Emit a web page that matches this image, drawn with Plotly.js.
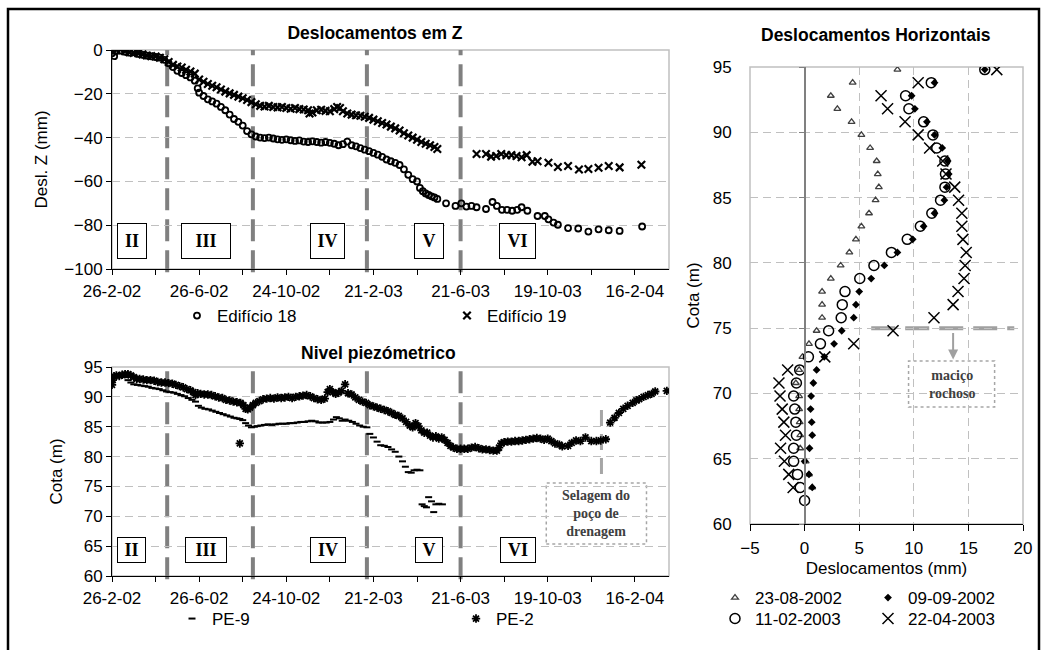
<!DOCTYPE html>
<html><head><meta charset="utf-8">
<script src="https://cdn.plot.ly/plotly-3.0.1.min.js"></script>
<style>body{margin:0;background:#fff}#chart{width:1046px;height:650px}</style>
</head><body><div id="chart"></div>
<script>
// ---------- DATA ----------
// time axis: days since 26-2-2002
const dateTickDays   = [0, 120, 240, 360, 480, 600, 720];
const dateTickLabels = ['26-2-02','26-6-02','24-10-02','21-2-03','21-6-03','19-10-03','16-2-04'];
const phaseBoundaryDays = [76, 194, 351, 480];
const phaseLabels    = ['II','III','IV','V','VI'];
const phaseLabelDays = [27, 129, 297, 437, 559];
const sealingDay = 674;

// Deslocamentos em Z (mm)
const ed18Days = [0,3,6,12,18,24,30,36,42,48,54,60,66,72,78,84,90,96,102,108,114,118,120,126,132,138,144,150,156,162,168,174,180,186,192,198,204,210,216,222,228,234,240,246,252,258,264,270,276,282,288,294,300,306,312,318,324,330,336,342,348,354,360,366,372,378,384,390,396,402,408,414,420,424,428,432,436,440,444,448,
  460,473,481,488,495,502,515,524,530,537,544,551,558,564,572,586,596,601,608,614,628,642,656,670,684,699,730];
const ed18Z = [-1.5,-2.8,-0.5,-0.3,-0.8,-1.2,-1.0,-1.8,-2.2,-2.6,-2.9,-3.2,-3.5,-4.5,-6.0,-7.8,-9.5,-10.5,-11.5,-12.5,-14.0,-17.5,-19.5,-21.0,-22.5,-23.5,-24.5,-26.0,-27.5,-29.5,-31.5,-32.8,-34.5,-37.0,-38.5,-39.5,-40.0,-40.2,-40.0,-40.4,-40.8,-41.0,-40.8,-41.2,-41.5,-41.3,-41.8,-42.0,-41.7,-42.0,-42.3,-42.0,-42.4,-42.8,-43.5,-43.0,-41.8,-43.5,-44.0,-44.8,-45.5,-46.2,-47.0,-47.8,-48.8,-50.0,-50.8,-51.5,-52.5,-54.5,-57.0,-59.0,-60.0,-63.0,-64.5,-65.5,-66.2,-66.8,-67.3,-68.0,
  -70.0,-71.2,-70.0,-71.5,-71.2,-71.8,-72.6,-69.4,-71.2,-73.0,-73.0,-73.4,-73.0,-71.8,-73.4,-75.8,-75.8,-77.3,-78.8,-79.8,-81.3,-81.5,-82.9,-81.9,-82.3,-82.6,-80.6];
const ed19Days = [0,6,12,18,24,30,36,42,48,54,60,66,72,78,84,90,96,102,108,114,120,126,132,138,144,150,156,162,168,174,180,186,192,198,204,210,216,222,228,234,240,246,252,258,264,270,272,276,282,288,294,300,306,310,314,318,324,330,336,342,348,354,360,366,372,378,384,390,396,402,408,414,420,426,432,438,444,448,
  502,515,522,529,536,543,550,557,564,571,579,586,601,614,628,643,656,670,684,699,729];
const ed19Z = [-0.5,0.0,0.2,-0.5,-1.0,-1.3,-1.5,-2.0,-2.5,-2.8,-3.0,-3.5,-4.2,-5.5,-6.8,-7.5,-8.0,-9.0,-9.8,-10.8,-13.5,-14.5,-15.5,-16.3,-17.0,-18.0,-19.0,-19.8,-20.5,-21.3,-22.0,-22.8,-23.8,-24.8,-25.5,-25.8,-25.5,-26.0,-26.2,-26.0,-26.5,-26.8,-26.5,-27.0,-27.2,-27.5,-29.0,-28.5,-27.5,-27.3,-27.8,-28.0,-27.0,-26.0,-26.5,-28.0,-29.0,-29.5,-29.8,-30.0,-30.5,-31.0,-31.8,-32.5,-33.3,-34.0,-35.0,-35.8,-36.8,-38.0,-39.0,-40.0,-41.0,-42.0,-42.8,-43.5,-44.3,-45.2,
  -47.5,-47.5,-48.7,-48.4,-47.5,-48.0,-48.0,-48.4,-49.0,-48.0,-51.0,-50.8,-51.5,-53.4,-53.0,-54.6,-54.3,-53.8,-53.0,-53.6,-52.4];

// Nivel piezométrico (m)
const pe9Days = [0,3,7,12,17,22,26,30,35,40,45,50,55,60,65,70,75,80,85,90,95,100,105,110,115,119,123,128,133,138,143,148,153,158,163,168,172,176,180,184,188,192,196,200,205,210,215,220,225,230,235,240,245,250,255,260,265,270,275,280,285,290,295,300,305,309,313,317,321,326,331,336,341,346,351,355,360,365,370,375,380,385,390,395,400,404,408,412,416,420,424,427,430,433,436,440,443,446,450,455];
const pe9Cota = [92.5,93.3,93.5,93.4,93.3,92.8,92.4,92.1,92.0,91.9,91.8,91.7,91.5,91.4,91.3,91.1,90.9,90.8,90.7,90.5,90.3,90.1,89.8,89.5,89.2,88.5,88.2,88.0,87.9,87.7,87.5,87.3,87.1,86.9,86.7,86.5,86.4,86.3,86.1,85.6,85.2,84.9,85.0,85.1,85.2,85.3,85.4,85.3,85.4,85.5,85.5,85.5,85.6,85.6,85.7,85.8,85.8,85.9,86.0,85.9,85.7,85.7,85.7,85.8,86.2,86.6,86.4,86.0,86.2,86.0,85.8,85.5,85.2,85.0,84.9,83.8,83.2,82.5,81.9,81.8,81.6,81.2,80.8,80.0,79.2,78.3,77.4,77.3,77.7,77.8,77.7,72.0,71.7,71.5,73.2,72.5,70.7,72.0,72.1,72.0];
const pe2Days = [0,1,3,6,10,14,18,22,26,30,34,38,43,48,53,58,63,68,73,78,83,88,93,98,103,108,112,115,118,122,127,132,137,142,147,152,157,162,167,172,176,177,181,184,187,190,194,198,203,208,213,218,223,228,233,238,243,248,253,258,263,268,273,278,283,288,293,297,300,304,308,312,316,321,325,330,335,340,345,350,355,360,365,370,375,380,385,390,395,400,405,410,414,418,422,426,430,434,438,442,446,450,454,458,462,466,470,475,480,485,490,495,500,505,510,515,520,525,530,533,536,540,545,550,555,560,565,570,575,580,585,590,595,600,605,610,616,620,628,633,639,645,652,660,667,673,680,686,692,698,704,710,717,722,726,732,738,743,748,764];
const pe2Cota = [92.0,92.8,93.4,93.6,93.5,93.7,93.8,93.8,93.6,93.3,93.0,93.0,92.9,92.8,92.8,92.7,92.5,92.4,92.4,92.3,92.2,92.0,91.8,91.6,91.3,91.1,90.8,90.3,90.6,90.5,90.4,90.4,90.3,90.1,89.9,89.8,89.5,89.4,89.2,89.1,82.2,89.0,88.6,88.0,87.9,88.2,88.6,89.0,89.3,89.6,89.7,89.8,89.7,89.9,89.8,89.9,90.0,89.8,90.0,90.1,90.2,90.3,90.1,89.8,89.6,89.5,89.7,90.8,91.3,90.8,90.5,90.7,91.0,92.1,90.6,90.4,89.9,89.5,89.2,89.0,88.6,88.4,88.2,88.0,87.8,87.6,87.3,87.0,86.8,86.4,85.8,85.2,84.9,85.6,85.1,84.4,84.0,84.0,83.5,83.2,83.4,83.0,83.2,82.8,82.3,81.8,81.5,81.3,81.3,81.3,81.3,81.5,81.6,81.4,81.2,81.2,81.1,81.0,81.0,81.5,82.2,82.4,82.5,82.5,82.6,82.6,82.7,82.8,82.9,83.0,83.1,83.0,82.8,83.0,82.6,82.2,82.0,81.7,81.8,82.3,82.7,82.6,83.2,82.6,82.6,82.7,82.9,85.7,86.5,87.3,88.0,88.5,89.0,89.4,89.6,90.0,90.3,90.5,90.9,91.0];

// Deslocamentos horizontais (mm) vs cota (m)
const cotaLevels = [94.8,93.8,92.8,91.8,90.8,89.8,88.8,87.8,86.8,85.8,84.8,83.8,82.8,81.8,80.8,79.8,78.8,77.8,76.8,75.8,74.8,73.8,72.8,71.8,70.8,69.8,68.8,67.8,66.8,65.8,64.8,63.8,62.8,61.8];
const desl20020823 = [8.5,4.4,2.4,3.0,4.3,5.2,6.0,6.6,6.7,6.8,6.5,5.9,5.2,4.7,4.1,3.3,2.4,1.6,1.6,1.6,1.1,0.4,-0.2,-0.5,-0.8,-0.5,-0.5,-0.45,-0.4,-0.4,0.1,0.4,0.7,null];
const desl20020909 = [16.5,11.9,9.8,10.1,11.2,11.9,12.6,13.1,13.2,13.0,12.8,11.9,10.9,9.9,8.5,7.3,6.1,5.0,4.7,4.5,3.4,2.7,1.8,1.1,0.8,0.6,0.55,0.65,0.7,0.45,0.0,0.4,0.7,null];
const desl20030211 = [16.5,11.6,9.25,9.55,10.9,11.75,12.1,12.85,12.9,12.85,12.45,11.65,10.6,9.4,7.95,6.35,5.05,3.7,3.45,3.35,2.2,1.45,0.35,-0.45,-0.75,-1.0,-0.9,-0.8,-0.75,-1.0,-1.0,-0.65,-0.4,0.0];
const desl20030422 = [17.6,10.4,7.0,7.6,9.2,10.4,11.45,12.65,12.95,13.75,14.1,14.4,14.4,14.5,14.8,14.7,14.6,14.05,13.6,11.85,8.1,4.5,1.85,-1.55,-2.35,-2.25,-2.05,-1.9,-1.75,-2.2,-1.85,-1.45,-1.05,null];
const rockTopCota = 75;

// ---------- LAYOUT HELPERS ----------
const W = 1046, H = 650;
const px = v => v / W, py = v => 1 - v / H;
const FONT = 'Liberation Sans, Arial, sans-serif';
const SERIF = 'Liberation Serif, Times New Roman, serif';
const FS = 17;
const tickFont = {family: FONT, size: FS, color: '#000'};
const titleFont = {family: FONT, size: 17.5, color: '#000'};
const gridStyle = {showgrid: true, gridcolor: '#c0c0c0', gridwidth: 1, griddash: '8px,5px'};

const timeAxis = (anchor) => ({
  domain: [px(112), px(669)], range: [0, 767], anchor: anchor,
  tickmode: 'array', tickvals: dateTickDays, ticktext: dateTickLabels,
  ticks: 'outside', ticklen: 5, tickcolor: '#000', tickfont: tickFont, ticklabelstandoff: 2,
  minor: {tickmode: 'linear', tick0: 0, dtick: 60, ticks: 'outside', ticklen: 5, tickcolor: '#000', showgrid: false},
  showline: true, linecolor: '#000', linewidth: 1, showgrid: false, zeroline: false, fixedrange: true
});

const traces = [
  {type: 'scatter', mode: 'markers', name: 'Edifício 18', x: ed18Days, y: ed18Z, xaxis: 'x', yaxis: 'y', legend: 'legend',
   marker: {symbol: 'circle-open', size: 6, color: '#000', line: {width: 1.8}}},
  {type: 'scatter', mode: 'markers', name: 'Edifício 19', x: ed19Days, y: ed19Z, xaxis: 'x', yaxis: 'y', legend: 'legend',
   marker: {symbol: 'x-thin-open', size: 7.5, color: '#000', line: {width: 2.2}}},
  {type: 'scatter', mode: 'markers', name: 'PE-9', x: pe9Days, y: pe9Cota, xaxis: 'x2', yaxis: 'y2', legend: 'legend2',
   marker: {symbol: 'line-ew-open', size: 5, color: '#000', line: {width: 2}}},
  {type: 'scatter', mode: 'markers', name: 'PE-2', x: pe2Days, y: pe2Cota, xaxis: 'x2', yaxis: 'y2', legend: 'legend2',
   marker: {symbol: 'asterisk-open', size: 7, color: '#000', line: {width: 1.8}}},
  {type: 'scatter', mode: 'markers', name: '23-08-2002', x: desl20020823, y: cotaLevels, xaxis: 'x3', yaxis: 'y3', legend: 'legend3',
   marker: {symbol: 'triangle-up-open', size: 6, color: '#404040', line: {width: 1.3}}},
  {type: 'scatter', mode: 'markers', name: '09-09-2002', x: desl20020909, y: cotaLevels, xaxis: 'x3', yaxis: 'y3', legend: 'legend3',
   marker: {symbol: 'diamond', size: 6, color: '#000'}},
  {type: 'scatter', mode: 'markers', name: '11-02-2003', x: desl20030211, y: cotaLevels, xaxis: 'x3', yaxis: 'y3', legend: 'legend4',
   marker: {symbol: 'circle-open', size: 10, color: '#000', line: {width: 1.5}}},
  {type: 'scatter', mode: 'markers', name: '22-04-2003', x: desl20030422, y: cotaLevels, xaxis: 'x3', yaxis: 'y3', legend: 'legend4',
   marker: {symbol: 'x-thin-open', size: 11, color: '#000', line: {width: 1.5}}},
  {type: 'scatter', mode: 'markers', x: [null], y: [null], xaxis: 'x3', yaxis: 'y4', showlegend: false, hoverinfo: 'skip'}
];

const shapes = [];
const annotations = [];
// plot-area borders
[['x','y'],['x2','y2'],['x3','y3']].forEach(([xa, ya]) => shapes.push({
  type: 'rect', xref: xa + ' domain', yref: ya + ' domain', x0: 0, x1: 1, y0: 0, y1: 1,
  line: {color: '#c0c0c0', width: 1.5}, layer: 'below'}));
// phase boundaries
[['x','y'],['x2','y2']].forEach(([xa, ya]) => phaseBoundaryDays.forEach(d => shapes.push({
  type: 'line', xref: xa, yref: ya + ' domain', x0: d, x1: d, y0: -0.015, y1: 1,
  line: {color: '#808080', width: 4, dash: '22px,9px'}, layer: 'below'})));
// phase label boxes
const topBoxW = [30, 50, 35, 30, 37], botBoxW = [29, 42, 36, 28, 36];
phaseLabels.forEach((lab, i) => {
  annotations.push({xref: 'x', yref: 'y', x: phaseLabelDays[i], y: -87.2, text: '<b>' + lab + '</b>', showarrow: false,
    font: {family: SERIF, size: 18, color: '#000'}, bgcolor: '#fff', bordercolor: '#000', borderwidth: 1, borderpad: 0,
    width: topBoxW[i] - 2, height: 34});
  annotations.push({xref: 'x2', yref: 'y2', x: phaseLabelDays[i], y: 64.35, text: '<b>' + lab + '</b>', showarrow: false,
    font: {family: SERIF, size: 18, color: '#000'}, bgcolor: '#fff', bordercolor: '#000', borderwidth: 1, borderpad: 0,
    width: botBoxW[i] - 2, height: 24});
});
// sealing of drainage well
shapes.push({type: 'line', xref: 'x2', yref: 'y2', x0: sealingDay, x1: sealingDay, y0: 87.8, y1: 76.1,
  line: {color: '#a6a6a6', width: 3, dash: '16px,8px'}, layer: 'below'});
shapes.push({type: 'rect', xref: 'x2', yref: 'y2', x0: 598, x1: 736, y0: 65.35, y1: 75.57,
  line: {color: '#a6a6a6', width: 1.5, dash: 'dot'}, fillcolor: '#fff', layer: 'below'});
annotations.push({xref: 'x2', yref: 'y2', x: 667, y: 70.4, showarrow: false, xanchor: 'center', yanchor: 'middle',
  text: '<b>Selagem do<br>poço de<br>drenagem</b>', font: {family: SERIF, size: 14, color: '#404040'}});
// rock mass
shapes.push({type: 'line', xref: 'x3', yref: 'y3', x0: 6.1, x1: 19.2, y0: rockTopCota, y1: rockTopCota,
  line: {color: '#a0a0a0', width: 4, dash: '24px,10px'}, layer: 'below'});
shapes.push({type: 'rect', xref: 'x3', yref: 'y3', x0: 9.52, x1: 17.4, y0: 68.96, y1: 72.48,
  line: {color: '#a6a6a6', width: 1.5, dash: 'dot'}, fillcolor: '#fff', layer: 'below'});
annotations.push({xref: 'x3', yref: 'y3', x: 13.46, y: 70.72, showarrow: false, xanchor: 'center', yanchor: 'middle',
  text: '<b>maciço<br>rochoso</b>', font: {family: SERIF, size: 14, color: '#404040'}});
annotations.push({xref: 'x3', yref: 'y3', x: 13.6, y: 72.6, ax: 0, ay: -28, text: '', showarrow: true,
  arrowhead: 2, arrowsize: 1, arrowwidth: 2, arrowcolor: '#a0a0a0'});
// subplot titles
annotations.push({xref: 'paper', yref: 'paper', x: px(378), y: py(353), xanchor: 'center', yanchor: 'middle',
  text: '<b>Nivel piezómetrico</b>', showarrow: false, font: titleFont});
annotations.push({xref: 'paper', yref: 'paper', x: px(876), y: py(35), xanchor: 'center', yanchor: 'middle',
  text: '<b>Deslocamentos Horizontais</b>', showarrow: false, font: titleFont});
// outer frame
shapes.push({type: 'rect', xref: 'paper', yref: 'paper', x0: px(8), x1: px(1039), y0: -0.1, y1: py(9),
  line: {color: '#000', width: 2.5}});

const x3Range = [-5, 20], x3Dom = [px(750), px(1023)];
const zeroPos = x3Dom[0] + (0 - x3Range[0]) / (x3Range[1] - x3Range[0]) * (x3Dom[1] - x3Dom[0]);
const legendBase = {orientation: 'h', xanchor: 'left', yanchor: 'top', bgcolor: 'rgba(0,0,0,0)',
  font: {family: FONT, size: FS, color: '#000'}, traceorder: 'normal'};

const layout = {
  width: W, height: H, margin: {l: 0, r: 0, t: 0, b: 0},
  paper_bgcolor: '#fff', plot_bgcolor: '#fff',
  font: {family: FONT, size: FS, color: '#000'},
  title: {text: '<b>Deslocamentos em Z</b>', x: px(375), y: py(33), xanchor: 'center', yanchor: 'middle', xref: 'paper', yref: 'paper',
    font: titleFont},
  xaxis: timeAxis('y'),
  yaxis: Object.assign({domain: [py(269), py(50)], range: [-100, 0], dtick: 20, anchor: 'x',
    ticks: 'outside', ticklen: 5, tickcolor: '#000', tickfont: tickFont, showline: true, linecolor: '#000', zeroline: false,
    title: {text: 'Desl. Z (mm)', font: {family: FONT, size: FS, color: '#000'}, standoff: 12}}, gridStyle),
  xaxis2: timeAxis('y2'),
  yaxis2: Object.assign({domain: [py(576), py(367)], range: [60, 95], dtick: 5, anchor: 'x2',
    ticks: 'outside', ticklen: 5, tickcolor: '#000', tickfont: tickFont, showline: true, linecolor: '#000', zeroline: false,
    title: {text: 'Cota (m)', font: {family: FONT, size: FS, color: '#000'}, standoff: 16}}, gridStyle),
  xaxis3: Object.assign({domain: x3Dom, range: x3Range, dtick: 5, anchor: 'y3',
    ticks: 'outside', ticklen: 6, tickcolor: '#000', tickfont: tickFont, ticklabelstandoff: 3, showline: true, linecolor: '#000', zeroline: false,
    title: {text: 'Deslocamentos (mm)', font: {family: FONT, size: FS, color: '#000'}, standoff: 4}}, gridStyle),
  yaxis3: Object.assign({domain: [py(524), py(67)], range: [60, 95], dtick: 5, anchor: 'x3',
    ticks: 'outside', ticklen: 14, tickcolor: 'rgba(0,0,0,0)', tickfont: tickFont, showline: false, zeroline: false,
    title: {text: 'Cota (m)', font: {family: FONT, size: FS, color: '#000'}, standoff: 8}}, gridStyle),
  yaxis4: {overlaying: 'y3', anchor: 'free', position: zeroPos, side: 'left', range: [60, 95], dtick: 5,
    showgrid: false, zeroline: false, showticklabels: false, ticks: 'outside', ticklen: 5, tickcolor: '#808080',
    showline: true, linecolor: '#808080', linewidth: 2},
  legend:  Object.assign({x: px(177), y: py(298), entrywidth: 225}, legendBase),
  legend2: Object.assign({x: px(172), y: py(601), entrywidth: 239}, legendBase),
  legend3: Object.assign({x: px(715), y: py(580), entrywidth: 108}, legendBase),
  legend4: Object.assign({x: px(715), y: py(601), entrywidth: 108}, legendBase),
  shapes: shapes, annotations: annotations, showlegend: true
};

Plotly.newPlot('chart', traces, layout, {displayModeBar: false, staticPlot: true});
</script>
</body></html>
